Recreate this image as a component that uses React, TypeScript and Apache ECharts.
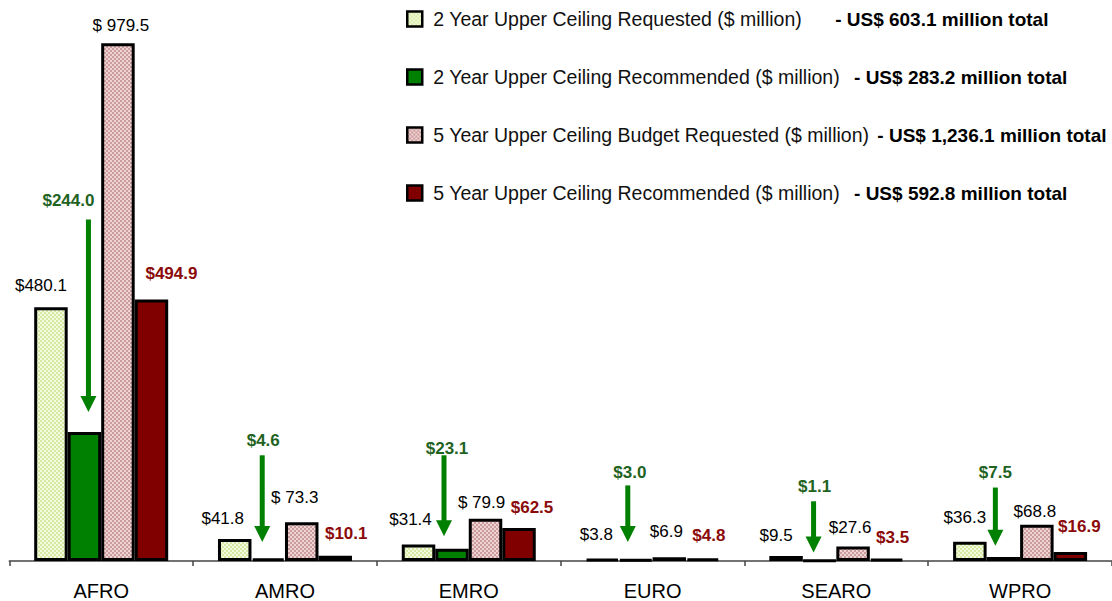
import React, { useEffect, useRef } from "react";
import * as echarts from "echarts";

// ---------- data ----------
const categories = ["AFRO", "AMRO", "EMRO", "EURO", "SEARO", "WPRO"];
const seriesNames = [
  "2 Year Upper Ceiling Requested ($ million)",
  "2 Year Upper Ceiling Recommended ($ million)",
  "5 Year Upper Ceiling Budget Requested ($ million)",
  "5 Year Upper Ceiling Recommended ($ million)",
];
const req2 = [480.1, 41.8, 31.4, 3.8, 9.5, 36.3];
const rec2 = [244.0, 4.6, 23.1, 3.0, 1.1, 7.5];
const req5 = [979.5, 73.3, 79.9, 6.9, 27.6, 68.8];
const rec5 = [494.9, 10.1, 62.5, 4.8, 3.5, 16.9];
const totals = ["603.1", "283.2", "1,236.1", "592.8"];
const req5Prefix = ["$ ", "$ ", "$ ", "$", "$", "$"];
// annotation arrows for the 2-year recommended values (value units)
const arrowTop = [646, 200, 200, 143, 113, 139];
const arrowTip = [282, 36, 47, 36, 16, 29];

// ---------- layout / style ----------
const FONT = '"Liberation Sans", Arial, sans-serif';
const GRID_LEFT = 9.3;
const GRID_WIDTH = 1114.2;
const GRID_TOP = 32.5;
const GRID_BOTTOM = 39.5;
const BAR_W = 33.5;
const ARROW_DX = [4, -6, -8, -8, -6, -8];
const ARROW_LABEL_DX = [-20, 1, 3, 2, 1, 0];
const ARROW_LABEL_DY = [19, 15, 7, 13, 15, 15];
const LEGEND_PAD = [33, 14, 8, 14];
// per-bar label nudges [dx, dy] in px
const LBL1 = [[-10, -6], [-12, -5], [-8, -9], [-6, -8], [-10, -5], [-5, -9]];
const LBL3 = [[3, -1], [-7, -8], [-4, 0], [-3, -9], [-3, -2], [-2, 3]];
const LBL4 = [[20, -9], [11, -6], [13, -4], [6, -6], [6, -5], [9, -9]];

function checker(c1: string, c2: string) {
  const cv = document.createElement("canvas");
  cv.width = 4;
  cv.height = 4;
  const ctx = cv.getContext("2d")!;
  ctx.fillStyle = c1;
  ctx.fillRect(0, 0, 4, 4);
  ctx.fillStyle = c2;
  ctx.fillRect(0, 0, 2, 2);
  ctx.fillRect(2, 2, 2, 2);
  return { image: cv, repeat: "repeat" } as any;
}

const withOffsets = (vals: number[], offs: number[][]) =>
  vals.map((v, i) => ({ value: v, label: { offset: offs[i] } }));

export default function App() {
  const ref = useRef<HTMLDivElement>(null);
  useEffect(() => {
    if (!ref.current) return;
    const chart = echarts.init(ref.current, undefined, { renderer: "svg" });
    const border = { borderColor: "#000", borderWidth: 3 };
    const option: any = {
      animation: false,
      backgroundColor: "#fff",
      grid: { left: GRID_LEFT, width: GRID_WIDTH, top: GRID_TOP, bottom: GRID_BOTTOM, containLabel: false },
      legend: {
        orient: "vertical",
        left: 401,
        top: 4,
        icon: "rect",
        itemWidth: 15,
        itemHeight: 15,
        itemGap: 38,
        selectedMode: false,
        data: seriesNames,
        itemStyle: { borderColor: "#000", borderWidth: 2.5 },
        formatter: (name: string) => {
          const i = seriesNames.indexOf(name);
          return `{a|${name}}{b${i}|- US$ ${totals[i]} million total}`;
        },
        textStyle: {
          fontFamily: FONT,
          rich: {
            a: { fontFamily: FONT, fontSize: 19.5, color: "#111", lineHeight: 20, padding: [0, 0, 0, 6] },
            ...Object.fromEntries(
              LEGEND_PAD.map((p, i) => [
                "b" + i,
                { fontFamily: FONT, fontSize: 19, fontWeight: "bold", color: "#000", padding: [0, 0, 0, p], lineHeight: 20 },
              ])
            ),
          },
        },
      },
      xAxis: {
        type: "category",
        data: categories,
        axisLine: { lineStyle: { color: "#444", width: 1.5 } },
        axisTick: { show: true, length: 5, lineStyle: { color: "#444", width: 1.5 } },
        axisLabel: { fontFamily: FONT, fontSize: 20, color: "#000", margin: 20 },
        splitLine: { show: false },
      },
      yAxis: { type: "value", min: 0, max: 1000, show: false, splitLine: { show: false } },
      series: [
        {
          name: seriesNames[0],
          type: "bar",
          barWidth: BAR_W,
          barGap: "0%",
          data: withOffsets(req2, LBL1),
          itemStyle: { color: checker("#f4fadc", "#d6eaa6"), ...border },
          label: {
            show: true,
            position: "top",
            distance: 7,
            fontFamily: FONT,
            fontSize: 17,
            color: "#000",
            formatter: (p: any) => "$" + Number(p.value).toFixed(1),
          },
        },
        {
          name: seriesNames[1],
          type: "bar",
          barWidth: BAR_W,
          barGap: "0%",
          data: rec2,
          itemStyle: { color: "#008000", ...border },
        },
        {
          name: seriesNames[2],
          type: "bar",
          barWidth: BAR_W,
          barGap: "0%",
          data: withOffsets(req5, LBL3),
          itemStyle: { color: checker("#eed4d4", "#cc9c9c"), ...border },
          label: {
            show: true,
            position: "top",
            distance: 8,
            fontFamily: FONT,
            fontSize: 17,
            color: "#000",
            formatter: (p: any) => req5Prefix[p.dataIndex] + Number(p.value).toFixed(1),
          },
        },
        {
          name: seriesNames[3],
          type: "bar",
          barWidth: BAR_W,
          barGap: "0%",
          data: withOffsets(rec5, LBL4),
          itemStyle: { color: "#800000", ...border },
          label: {
            show: true,
            position: "top",
            distance: 8,
            fontFamily: FONT,
            fontSize: 17,
            fontWeight: "bold",
            color: "#8b0a0a",
            formatter: (p: any) => "$" + Number(p.value).toFixed(1),
          },
        },
        {
          name: "arrows",
          type: "custom",
          z: 10,
          clip: false,
          encode: { x: 0, y: 1 },
          data: categories.map((_, i) => [i, arrowTop[i], arrowTip[i], rec2[i]]),
          renderItem: (params: any, api: any) => {
            const i = api.value(0);
            const top = api.coord([i, api.value(1)]);
            const tip = api.coord([i, api.value(2)]);
            const x = top[0] - BAR_W / 2 + ARROW_DX[i];
            const headH = 16;
            const headW = 16;
            return {
              type: "group",
              children: [
                {
                  type: "line",
                  shape: { x1: x, y1: top[1], x2: x, y2: tip[1] - headH + 1 },
                  style: { stroke: "#008000", lineWidth: 5 },
                },
                {
                  type: "polygon",
                  shape: {
                    points: [
                      [x - headW / 2, tip[1] - headH],
                      [x + headW / 2, tip[1] - headH],
                      [x, tip[1]],
                    ],
                  },
                  style: { fill: "#008000" },
                },
                {
                  type: "text",
                  x: x + ARROW_LABEL_DX[i],
                  y: top[1] - ARROW_LABEL_DY[i],
                  style: {
                    text: "$" + Number(api.value(3)).toFixed(1),
                    fill: "#1f631f",
                    fontFamily: FONT,
                    fontSize: 17,
                    fontWeight: "bold",
                    align: "center",
                    verticalAlign: "middle",
                  },
                },
              ],
            };
          },
        },
      ],
    };
    chart.setOption(option);
    return () => chart.dispose();
  }, []);
  return (
    <div
      ref={ref}
      style={{ position: "fixed", left: 0, top: 0, width: 1112, height: 601, background: "#fff" }}
    />
  );
}
